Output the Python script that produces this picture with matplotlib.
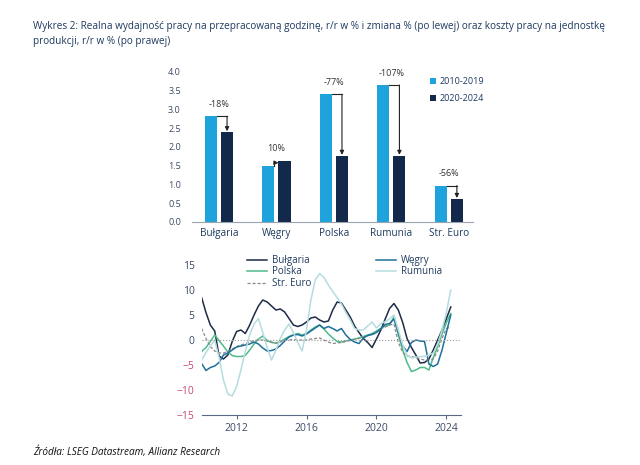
import numpy as np
import matplotlib.pyplot as plt

plt.rcParams['font.family'] = ['Open Sans', 'DejaVu Sans']

# bar chart data (left): labour productivity growth, avg % y/y
countries = ["Bułgaria", "Węgry", "Polska", "Rumunia", "Str. Euro"]
prod_2010_2019 = [2.82, 1.48, 3.40, 3.65, 0.97]
prod_2020_2024 = [2.40, 1.63, 1.77, 1.77, 0.62]
change_labels = ["-18%", "10%", "-77%", "-107%", "-56%"]

# line chart data (right): unit labour costs, % y/y, quarterly 2010Q1-2024Q2
years = np.arange(2010, 2024.26, 0.25)
bulgaria = [8.5, 5.5, 3.0, 1.8, -3.2, -3.8, -3.0, -0.3, 1.7, 2.0, 1.3, 3.0,
            5.0, 6.8, 8.0, 7.6, 6.8, 6.0, 6.2, 5.6, 4.3, 3.0, 2.7, 3.0,
            3.6, 4.4, 4.6, 4.0, 3.6, 3.8, 6.0, 7.6, 7.4, 6.0, 4.6, 2.8,
            1.5, 0.3, -0.5, -1.5, 0.2, 2.0, 4.2, 6.3, 7.3, 6.0, 3.5, 0.3,
            -1.5, -3.0, -4.6, -4.5, -3.8, -2.0, 0.0, 2.0, 4.3, 6.6]
wegry = [-4.7, -6.1, -5.5, -5.2, -4.5, -3.0, -2.6, -2.0, -1.4, -1.2, -1.0, -0.8,
         -0.4, -0.8, -1.6, -2.2, -2.1, -1.8, -1.1, -0.2, 0.6, 1.0, 1.1, 0.8,
         1.2, 1.8, 2.4, 3.0, 2.3, 2.7, 2.3, 1.8, 2.3, 1.0, 0.1, -0.4,
         -0.7, 0.4, 0.9, 1.1, 1.5, 2.3, 3.1, 3.3, 4.2, 1.5, -1.2, -2.3,
         -0.5, 0.0, -0.2, -0.3, -4.8, -5.3, -4.8, -2.0, 1.5, 5.0]
polska = [-2.3, -1.5, -0.3, 1.0, -0.1, -1.2, -2.4, -3.1, -3.3, -3.3, -3.1, -2.0,
          -0.8, 0.2, 0.8, -0.1, -0.5, -0.6, -0.3, 0.2, 0.7, 1.0, 1.3, 1.0,
          1.3, 2.0, 2.6, 3.0, 2.2, 1.2, 0.4, -0.3, -0.4, -0.2, 0.0, 0.2,
          0.4, 0.7, 1.0, 1.3, 1.8, 2.3, 2.8, 3.0, 4.6, 1.0, -2.0, -4.5,
          -6.3, -6.0, -5.5, -5.5, -6.0, -3.5, -1.3, 1.2, 3.5, 5.3]
rumunia = [-4.0, -2.5, -1.2, 0.0, -3.5, -8.0, -10.8, -11.2, -9.3, -6.0, -2.3, 1.0,
           3.2, 4.3, 1.5, -1.5, -4.0, -2.0, 0.3, 2.0, 3.2, 1.5, -0.5, -2.2,
           2.0, 8.0, 12.0, 13.3, 12.5, 11.0, 9.7, 8.5, 7.2, 5.5, 4.0, 2.3,
           2.0, 2.0, 2.8, 3.6, 2.4, 3.3, 3.7, 4.2, 5.0, 2.0, -1.0, -3.0,
           -3.6, -3.4, -3.3, -3.3, -3.0, -2.6, -0.8, 2.0, 5.5, 10.0]
euro = [2.3, 0.3, -1.3, -2.2, -2.6, -2.6, -2.3, -1.8, -1.3, -1.0, -0.7, -0.4,
        -0.1, 0.0, 0.0, -0.2, -0.4, -0.7, -0.4, 0.0, 0.0, 0.1, 0.0, 0.0,
        0.0, 0.2, 0.3, 0.4, 0.0, -0.4, -0.7, -0.6, -0.5, -0.3, -0.1, 0.1,
        0.3, 0.6, 0.9, 1.1, 1.6, 2.2, 2.6, 3.0, 3.2, -0.5, -2.5, -3.2,
        -3.3, -3.5, -3.8, -4.0, -4.0, -3.8, -2.2, 0.3, 2.3, 2.6]

light = "#1fa3dc"
navy = "#13294b"
txt = "#3c4a66"

fig = plt.figure(figsize=(6.4, 4.65), dpi=100)

fig.text(0.052, 0.955, "Wykres 2: Realna wydajność pracy na przepracowaną godzinę, r/r w % i zmiana % "
         "(po lewej) oraz koszty pracy na jednostkę\nprodukcji, r/r w % (po prawej)",
         fontsize=7.2, color="#1d3a5f", va="top", linespacing=1.45)
fig.text(0.052, 0.022, "Źródła: LSEG Datastream, Allianz Research", fontsize=7.2,
         style="italic", color="#111111")

# ---- bar chart
ax1 = fig.add_axes([0.3, 0.5226, 0.439, 0.3226])
idx = np.arange(len(countries))
off = 0.14
w = 0.21
ax1.bar(idx - off, prod_2010_2019, width=w, color=light, label="2010-2019")
ax1.bar(idx + off, prod_2020_2024, width=w, color=navy, label="2020-2024")

for i in range(len(countries)):
    h1 = prod_2010_2019[i]
    h2 = prod_2020_2024[i]
    xl = i - off + w / 2
    xd = i + off
    if h2 < h1:
        ax1.plot([xl, xd], [h1, h1], color="#222222", lw=0.8)
        ax1.annotate("", xy=(xd, h2 + 0.02), xytext=(xd, h1),
                     arrowprops=dict(arrowstyle="-|>", color="#222222", lw=0.8,
                                     mutation_scale=6, shrinkA=0, shrinkB=0))
    else:
        ax1.plot([xl, xl], [h1, h2 - 0.05], color="#222222", lw=0.8)
        ax1.annotate("", xy=(i + off - w / 2, h2 - 0.05), xytext=(xl, h2 - 0.05),
                     arrowprops=dict(arrowstyle="-|>", color="#222222", lw=0.8,
                                     mutation_scale=6, shrinkA=0, shrinkB=0))
    ax1.text(i, max(h1, h2) + 0.32, change_labels[i], ha="center", va="center",
             fontsize=6.5, color="#333333")

ax1.set_xlim(-0.47, 4.42)
ax1.set_ylim(0, 4.0)
ax1.set_yticks(np.arange(0, 4.01, 0.5))
ax1.set_yticklabels(["%.1f" % v for v in np.arange(0, 4.01, 0.5)])
ax1.set_xticks(idx)
ax1.set_xticklabels(countries)
ax1.tick_params(axis="y", length=0, pad=8, labelsize=6.5, labelcolor=txt)
ax1.tick_params(axis="x", length=0, pad=4, labelsize=7.2, labelcolor="#1d3a5f")
for s in ["top", "right", "left"]:
    ax1.spines[s].set_visible(False)
ax1.spines["bottom"].set_color("#9aa3b0")
ax1.legend(loc="upper right", bbox_to_anchor=(1.07, 1.02), frameon=False, fontsize=6.5,
           handlelength=0.7, handleheight=0.7, handletextpad=0.4, labelspacing=0.9,
           labelcolor="#1d3a5f")

# ---- line chart
ax2 = fig.add_axes([0.315, 0.1075, 0.406, 0.3226])
ax2.plot(years, bulgaria, color="#1e2b47", lw=1.1, label="Bułgaria")
ax2.plot(years, polska, color="#4dbb8a", lw=1.1, label="Polska")
ax2.plot(years, euro, color="#8a8a8a", lw=0.9, ls="--", dashes=(2.5, 1.5), label="Str. Euro")
ax2.plot(years, wegry, color="#1f6f9b", lw=1.1, label="Węgry")
ax2.plot(years, rumunia, color="#b5dcdf", lw=1.1, label="Rumunia")
ax2.axhline(0, color="#9a9a9a", lw=0.8, ls=":")

ax2.set_xlim(2010.0, 2024.86)
ax2.set_ylim(-15, 15)
ax2.set_yticks([-15, -10, -5, 0, 5, 10, 15])
ax2.set_xticks([2012, 2016, 2020, 2024])
ax2.tick_params(axis="y", length=0, pad=5, labelsize=7.5, labelcolor=txt)
ax2.tick_params(axis="x", length=3, width=0.8, color="#5a6a85", pad=3, labelsize=7.5,
                labelcolor=txt)
for lab in ax2.get_yticklabels():
    if lab.get_text().startswith(("-", "−")):
        lab.set_color("#c64a6e")
for s in ["top", "right", "left"]:
    ax2.spines[s].set_visible(False)
ax2.spines["bottom"].set_color("#5a6a85")
ax2.legend(loc="upper left", bbox_to_anchor=(0.14, 1.125), ncol=2, frameon=False,
           fontsize=7, handlelength=2.1, handletextpad=0.5, labelspacing=0.05,
           columnspacing=6.6, labelcolor="#1d3a5f")

plt.savefig("out.png", dpi=100)
